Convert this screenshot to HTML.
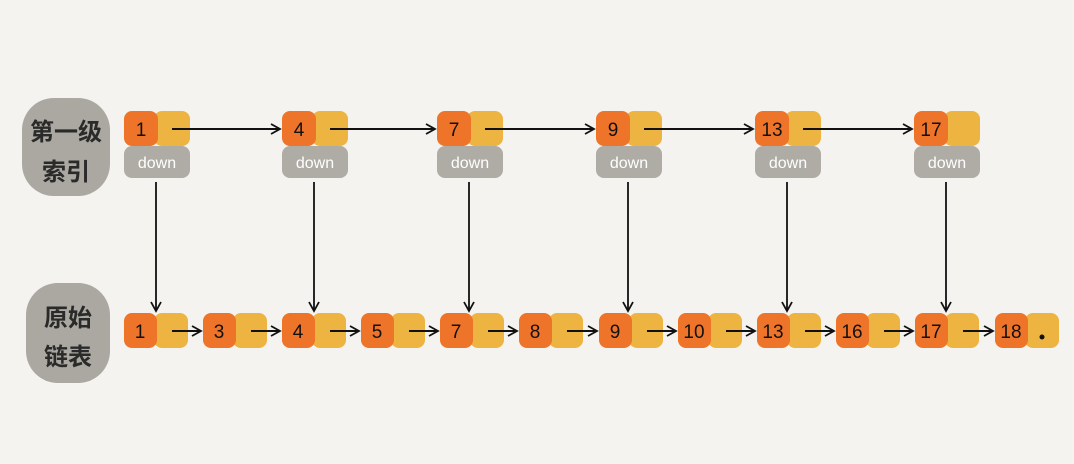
<!DOCTYPE html>
<html><head><meta charset="utf-8"><style>
html,body{margin:0;padding:0;background:#f4f3ef;}
svg{display:block}
text{font-family:"Liberation Sans","Noto Sans CJK SC",sans-serif;}
</style></head><body>
<svg id="s" width="1074" height="464" viewBox="0 0 1074 464" xmlns="http://www.w3.org/2000/svg">
<defs>
<marker id="a" markerWidth="12" markerHeight="12" refX="10" refY="6" orient="auto" markerUnits="userSpaceOnUse">
<path d="M1,1 L10,6 L1,11" fill="none" stroke="#111" stroke-width="1.8"/>
</marker>
</defs>
<rect width="1074" height="464" fill="#f4f3ef"/>
<rect x="22" y="98" width="88" height="98" rx="32" fill="#aaa8a0"/>
<text x="66" y="140" font-size="24" text-anchor="middle" fill="#2a2a2a" font-family="Noto Sans CJK SC" font-weight="bold">第一级</text>
<text x="66" y="180" font-size="24" text-anchor="middle" fill="#2a2a2a" font-family="Noto Sans CJK SC" font-weight="bold">索引</text>
<rect x="26" y="283" width="84" height="100" rx="32" fill="#aaa8a0"/>
<text x="68" y="326" font-size="24" text-anchor="middle" fill="#2a2a2a" font-family="Noto Sans CJK SC" font-weight="bold">原始</text>
<text x="68" y="365" font-size="24" text-anchor="middle" fill="#2a2a2a" font-family="Noto Sans CJK SC" font-weight="bold">链表</text>
</svg>
<script>
(function(){
var ns="http://www.w3.org/2000/svg",svg=document.getElementById('s');
function el(t,a,txt){var e=document.createElementNS(ns,t);for(var k in a)e.setAttribute(k,a[k]);if(txt)e.textContent=txt;svg.appendChild(e);return e;}
var tn=[[124,'1'],[282,'4'],[437,'7'],[596,'9'],[755,'13'],[914,'17']];
var bn=[[124,'1'],[203,'3'],[282,'4'],[361,'5'],[440,'7'],[519,'8'],[599,'9'],[678,'10'],[757,'13'],[836,'16'],[915,'17'],[995,'18']];
tn.forEach(function(n,i){var x=n[0];
 el('rect',{x:x,y:146,width:66,height:32,rx:8,fill:'#aeaca4'});
 el('text',{x:x+33,y:168,'font-size':16,'text-anchor':'middle',fill:'#fff'},'down');
 el('rect',{x:x+30,y:111,width:36,height:35,rx:8,fill:'#eeb441'});
 el('rect',{x:x,y:111,width:34,height:35,rx:8,fill:'#ee7429'});
 el('text',{x:x+17,y:136,'font-size':19,'text-anchor':'middle',fill:'#111'},n[1]);
 if(i<tn.length-1) el('line',{x1:x+48,y1:129,x2:tn[i+1][0]-2,y2:129,stroke:'#111','stroke-width':2,'marker-end':'url(#a)'});
 el('line',{x1:x+32,y1:182,x2:x+32,y2:311,stroke:'#111','stroke-width':1.8,'marker-end':'url(#a)'});
});
bn.forEach(function(n,i){var x=n[0];
 el('rect',{x:x+30,y:313,width:34,height:35,rx:8,fill:'#eeb441'});
 el('rect',{x:x,y:313,width:33,height:35,rx:8,fill:'#ee7429'});
 el('text',{x:x+16,y:338,'font-size':19,'text-anchor':'middle',fill:'#111'},n[1]);
 if(i<bn.length-1) el('line',{x1:x+48,y1:331,x2:bn[i+1][0]-2,y2:331,stroke:'#111','stroke-width':2,'marker-end':'url(#a)'});
});
el('circle',{cx:1042,cy:337,r:2.5,fill:'#111'});
})();
</script>
</body></html>
